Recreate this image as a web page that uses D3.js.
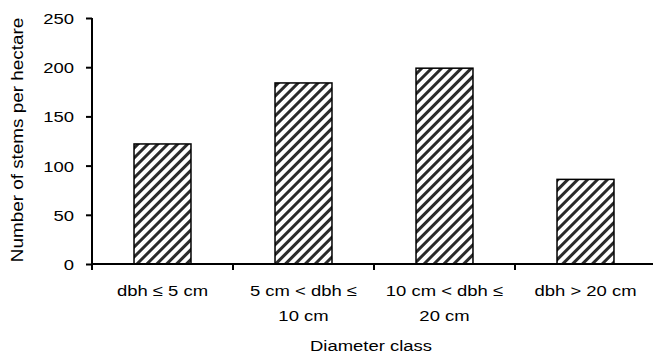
<!DOCTYPE html>
<html><head><meta charset="utf-8">
<script src="https://cdn.jsdelivr.net/npm/d3@7"></script>
<style>body{margin:0;background:#fff}text{font-family:"Liberation Sans",Arial,sans-serif;fill:#000}</style>
</head><body>
<svg id="c" width="653" height="356"></svg>
<script>
(function () {
const categories = [["dbh ≤ 5 cm"], ["5 cm < dbh ≤", "10 cm"], ["10 cm < dbh ≤", "20 cm"], ["dbh > 20 cm"]];
const values = [122, 184, 199, 86];
const yTicks = [0, 50, 100, 150, 200, 250];
const xTitle = "Diameter class";
const yTitle = "Number of stems per hectare";

const svg = d3.select("#c");
const FS = 15.5, STRETCH = 1.19;
const mLeft = 92, mRight = 656, mTop = 18, mBottom = 264;

const defs = svg.append("defs");
const pat = defs.append("pattern").attr("id", "hatch").attr("patternUnits", "userSpaceOnUse")
  .attr("width", 7).attr("height", 7).attr("patternTransform", "rotate(45)");
pat.append("rect").attr("width", 7).attr("height", 7).attr("fill", "#fff");
pat.append("line").attr("x1", 3.5).attr("y1", 0).attr("x2", 3.5).attr("y2", 7)
  .attr("stroke", "#2a2a2a").attr("stroke-width", 3);

const x = d3.scaleBand().domain(d3.range(categories.length)).range([mLeft, mRight])
  .paddingInner(0.596).paddingOuter(0.298);
const y = d3.scaleLinear().domain([0, 250]).range([mBottom, mTop]);

svg.selectAll("rect.bar").data(values).join("rect").attr("class", "bar")
  .attr("x", (d, i) => x(i)).attr("width", x.bandwidth())
  .attr("y", d => y(d)).attr("height", d => y(0) - y(d))
  .attr("fill", "url(#hatch)").attr("stroke", "#000").attr("stroke-width", 1.5);

// y axis
const ya = svg.append("g").attr("transform", `translate(${mLeft},0)`)
  .call(d3.axisLeft(y).tickValues(yTicks).tickSize(6).tickPadding(12));
ya.select(".domain").attr("stroke", "#000").attr("stroke-width", 2).attr("d", `M0,${y(250)}V${mBottom + 6}`);
ya.selectAll(".tick line").attr("stroke-width", 2);
ya.selectAll(".tick text").attr("font-size", FS).attr("dy", "0.35em");

// x axis
const step = x.step();
const boundaries = d3.range(categories.length + 1).map(i => mLeft + i * step);
const xa = svg.append("g");
xa.append("line").attr("x1", mLeft).attr("x2", 653).attr("y1", mBottom).attr("y2", mBottom)
  .attr("stroke", "#000").attr("stroke-width", 2);
xa.selectAll("line.tk").data(boundaries).join("line").attr("class", "tk")
  .attr("x1", d => d).attr("x2", d => d).attr("y1", mBottom).attr("y2", mBottom + 6)
  .attr("stroke", "#000").attr("stroke-width", 2);

const lab = svg.append("g").selectAll("text").data(categories).join("text")
  .attr("text-anchor", "middle").attr("font-size", FS)
  .attr("x", (d, i) => x(i) + x.bandwidth() / 2);
lab.selectAll("tspan").data(d => d).join("tspan")
  .attr("x", function () { return this.parentNode.getAttribute("x"); })
  .attr("y", (d, j) => 291 + j * 25).attr("dy", "0.35em").text(d => d);

svg.append("text").attr("x", 371).attr("y", 346).attr("dy", "0.35em")
  .attr("text-anchor", "middle").attr("font-size", FS).text(xTitle);

svg.append("text").attr("transform", "translate(17,140) rotate(-90)").attr("dy", "0.35em")
  .attr("text-anchor", "middle").attr("font-size", 16).attr("class", "ytitle").text(yTitle);

// widen text to match the reference's wide letterforms
svg.selectAll("text").each(function () {
  const el = d3.select(this);
  const f = el.classed("ytitle") ? 1.18 : STRETCH;
  const tsp = el.selectAll("tspan");
  if (tsp.size()) {
    tsp.each(function () { d3.select(this).attr("textLength", this.getComputedTextLength() * f).attr("lengthAdjust", "spacingAndGlyphs"); });
  } else {
    el.attr("textLength", this.getComputedTextLength() * f).attr("lengthAdjust", "spacingAndGlyphs");
  }
});
})();
</script>
</body></html>
